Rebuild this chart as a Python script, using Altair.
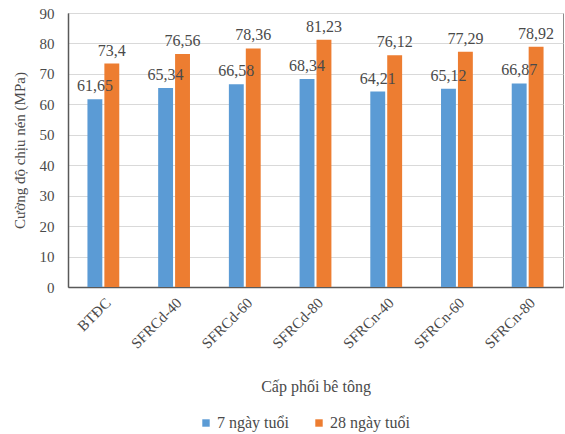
import altair as alt
import pandas as pd

# Compressive strength of concrete mixes at 7 and 28 days
mixes = ["BTĐC", "SFRCd-40", "SFRCd-60", "SFRCd-80", "SFRCn-40", "SFRCn-60", "SFRCn-80"]
ages = ["7 ngày tuổi", "28 ngày tuổi"]
strength_7 = [61.65, 65.34, 66.58, 68.34, 64.21, 65.12, 66.87]
strength_28 = [73.4, 76.56, 78.36, 81.23, 76.12, 77.29, 78.92]
colors = ["#5B9BD5", "#ED7D31"]

rows = []
for m, a, b in zip(mixes, strength_7, strength_28):
    rows.append({"mix": m, "age": ages[0], "value": a, "label": f"{a:g}".replace(".", ",")})
    rows.append({"mix": m, "age": ages[1], "value": b, "label": f"{b:g}".replace(".", ",")})
df = pd.DataFrame(rows)

FONT = "Liberation Serif"
TEXT = "#4a4a4a"

base = alt.Chart(df).encode(
    x=alt.X("mix:N", sort=mixes, title="Cấp phối bê tông",
            scale=alt.Scale(paddingInner=0.55, paddingOuter=0.275),
            axis=alt.Axis(labelAngle=-45, labelFont=FONT, labelFontSize=15,
                          labelColor=TEXT, titleFont=FONT, titleFontSize=16,
                          titleFontWeight="normal", titleColor=TEXT,
                          titlePadding=28, ticks=False, labelPadding=8,
                          domainColor="#595959", domainWidth=1.5)),
    xOffset=alt.XOffset("age:N", sort=ages, scale=alt.Scale(paddingInner=0.12)),
    y=alt.Y("value:Q", title="Cường độ chịu nén (MPa)",
            scale=alt.Scale(domain=[0, 90]),
            axis=alt.Axis(values=list(range(0, 91, 10)), labelFont=FONT,
                          labelFontSize=15, labelColor=TEXT, labelPadding=14,
                          ticks=False, titleFont=FONT, titleFontSize=15,
                          titleFontWeight="normal", titleColor=TEXT,
                          titlePadding=12, gridColor="#d9d9d9",
                          domainColor="#595959", domainWidth=1.5)),
)

bars = base.mark_bar().encode(
    color=alt.Color("age:N", sort=ages, scale=alt.Scale(domain=ages, range=colors),
                    legend=alt.Legend(title=None, orient="none", direction="horizontal",
                                      legendX=130, legendY=402, symbolType="square",
                                      symbolSize=55, labelFont=FONT, labelFontSize=16,
                                      labelColor=TEXT, columnPadding=22,
                                      symbolStrokeWidth=0, labelOffset=3)),
)

labels = base.mark_text(dy=-13, font=FONT, fontSize=16, color=TEXT).encode(
    text="label:N",
)

chart = (bars + labels).properties(
    width=495, height=274,
    autosize=alt.AutoSizeParams(type="none"),
    padding={"left": 68, "top": 13, "right": 2, "bottom": 147},
).configure_view(stroke="#8c8c8c", strokeWidth=1)

chart.save("out.html", embed_options={"renderer": "svg", "actions": False})
